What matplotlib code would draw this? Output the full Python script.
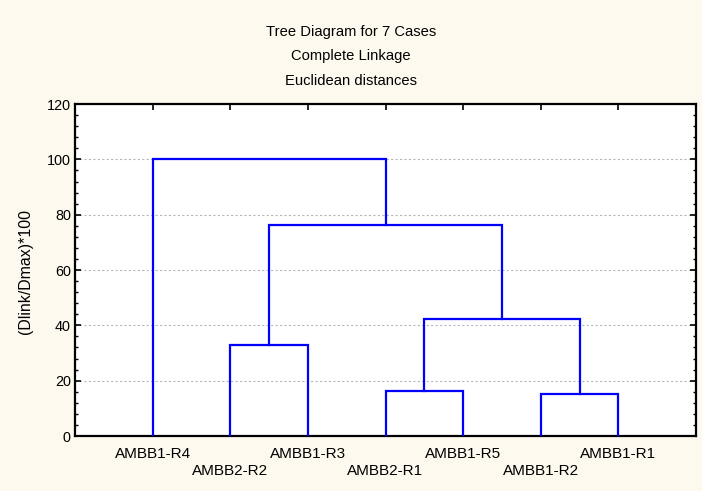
import matplotlib.pyplot as plt

plt.rcParams['font.family'] = ['Liberation Sans', 'DejaVu Sans']

# leaves in plotting order
labels = ['AMBB1-R4', 'AMBB2-R2', 'AMBB1-R3', 'AMBB2-R1',
          'AMBB1-R5', 'AMBB1-R2', 'AMBB1-R1']
# merges: (cluster a, cluster b, linkage distance); new clusters numbered 7, 8, ...
merges = [(5, 6, 15.2),
          (3, 4, 16.2),
          (1, 2, 33.0),
          (8, 7, 42.4),
          (9, 10, 76.2),
          (0, 11, 100.0)]

bg = '#fdf9ee'
fig = plt.figure(figsize=(7.02, 4.91), dpi=100, facecolor=bg)
ax = fig.add_axes([0.1068, 0.112, 0.8847, 0.676])
ax.set_facecolor('white')

n = len(labels)
pos = {i: i + 1 for i in range(n)}
hgt = {i: 0.0 for i in range(n)}
for k, (a, b, d) in enumerate(merges):
    xa, xb = pos[a], pos[b]
    ax.plot([xa, xa, xb, xb], [hgt[a], d, d, hgt[b]], color='#0000ff', lw=1.6,
            solid_joinstyle='miter', zorder=3)
    pos[n + k] = (xa + xb) / 2
    hgt[n + k] = d

ax.set_xlim(0, n + 1)
ax.set_ylim(0, 120)
ax.set_yticks(range(0, 121, 20))
ax.set_yticks(range(0, 121, 4), minor=True)
ax.set_xticks(range(1, n + 1))
ax.set_xticklabels([''] * n)
for i, lab in enumerate(labels):
    off = -0.053 if i % 2 == 0 else -0.105
    ax.text(i + 1, off, lab, transform=ax.get_xaxis_transform(),
            ha='center', va='center', fontsize=11)

ax.tick_params(axis='both', direction='in', top=True, right=True,
               labelsize=10.4, width=1.2)
ax.tick_params(axis='y', which='major', length=4, pad=3)
ax.tick_params(axis='y', which='minor', direction='in', right=True,
               length=2.5, width=1)
ax.tick_params(axis='x', length=4)

for y in range(20, 101, 20):
    ax.axhline(y, color='#b8b8b8', lw=0.8, ls=(0, (2, 2)), zorder=1)

for s in ax.spines.values():
    s.set_linewidth(1.6)

fig.text(25 / 702, 0.447, '(Dlink/Dmax)*100', rotation=90,
         ha='center', va='center', fontsize=11.4)

fig.text(0.5, 0.927, 'Tree Diagram for 7 Cases', ha='center', va='baseline', fontsize=10.6)
fig.text(0.5, 0.878, 'Complete Linkage', ha='center', va='baseline', fontsize=10.6)
fig.text(0.5, 0.827, 'Euclidean distances', ha='center', va='baseline', fontsize=10.6)

fig.savefig('out.png', dpi=100, facecolor=bg)
